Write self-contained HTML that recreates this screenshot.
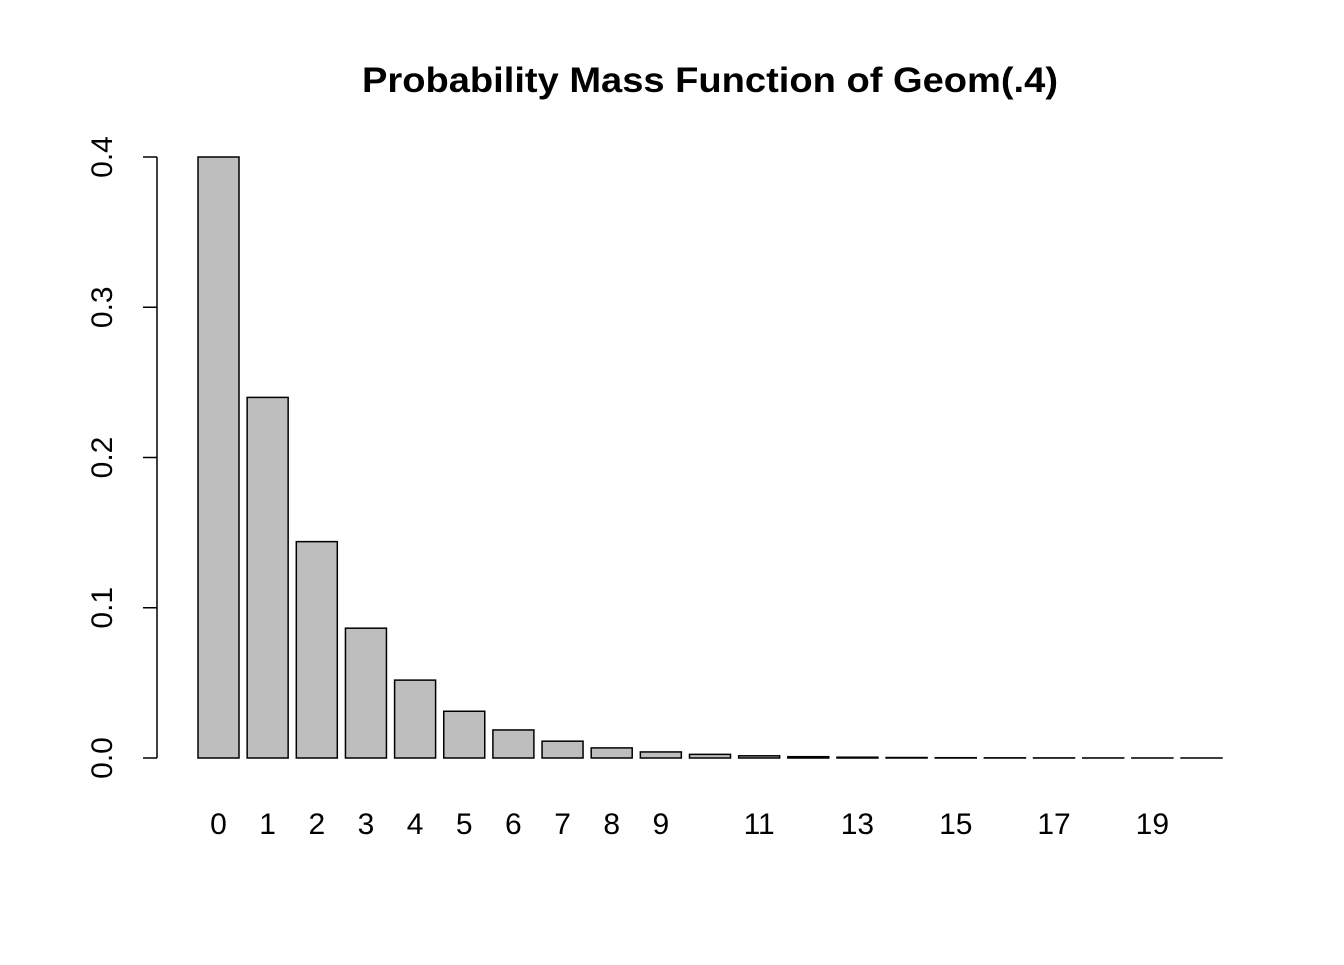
<!DOCTYPE html>
<html><head><meta charset="utf-8"><style>body{margin:0;background:#fff}</style></head>
<body>
<svg width="1344" height="960" xmlns="http://www.w3.org/2000/svg" font-family="Liberation Sans, Arial, sans-serif">
<rect width="1344" height="960" fill="#fff"/>
<text x="710" y="92" text-anchor="middle" font-size="35" font-weight="bold" textLength="696" lengthAdjust="spacingAndGlyphs">Probability Mass Function of Geom(.4)</text>
<g stroke="#000" stroke-width="1.5" fill="none">
<line x1="157" y1="157" x2="157" y2="758"/>
<line x1="143" y1="758" x2="157" y2="758"/>
<line x1="143" y1="607.75" x2="157" y2="607.75"/>
<line x1="143" y1="457.5" x2="157" y2="457.5"/>
<line x1="143" y1="307.25" x2="157" y2="307.25"/>
<line x1="143" y1="157" x2="157" y2="157"/>
</g>
<g font-size="30" text-anchor="middle">
<text transform="translate(112,758) rotate(-90)">0.0</text>
<text transform="translate(112,607.75) rotate(-90)">0.1</text>
<text transform="translate(112,457.5) rotate(-90)">0.2</text>
<text transform="translate(112,307.25) rotate(-90)">0.3</text>
<text transform="translate(112,157) rotate(-90)">0.4</text>
</g>
<g id="bars" fill="#bebebe" stroke="#000" stroke-width="1.5"></g>
<g id="labs" font-size="30" text-anchor="middle"></g>
<script>
var b=document.getElementById('bars'),l=document.getElementById('labs'),ns='http://www.w3.org/2000/svg';
for(var i=0;i<21;i++){var x=198+i*49.15,h=601*Math.pow(0.6,i);
var r=document.createElementNS(ns,'rect');r.setAttribute('x',x);r.setAttribute('y',758-h);r.setAttribute('width',41);r.setAttribute('height',h);b.appendChild(r);
if(i<10||i%2==1){var t=document.createElementNS(ns,'text');t.setAttribute('x',x+20.5);t.setAttribute('y',834);t.textContent=i;l.appendChild(t);}}
</script>
</svg>
</body></html>
